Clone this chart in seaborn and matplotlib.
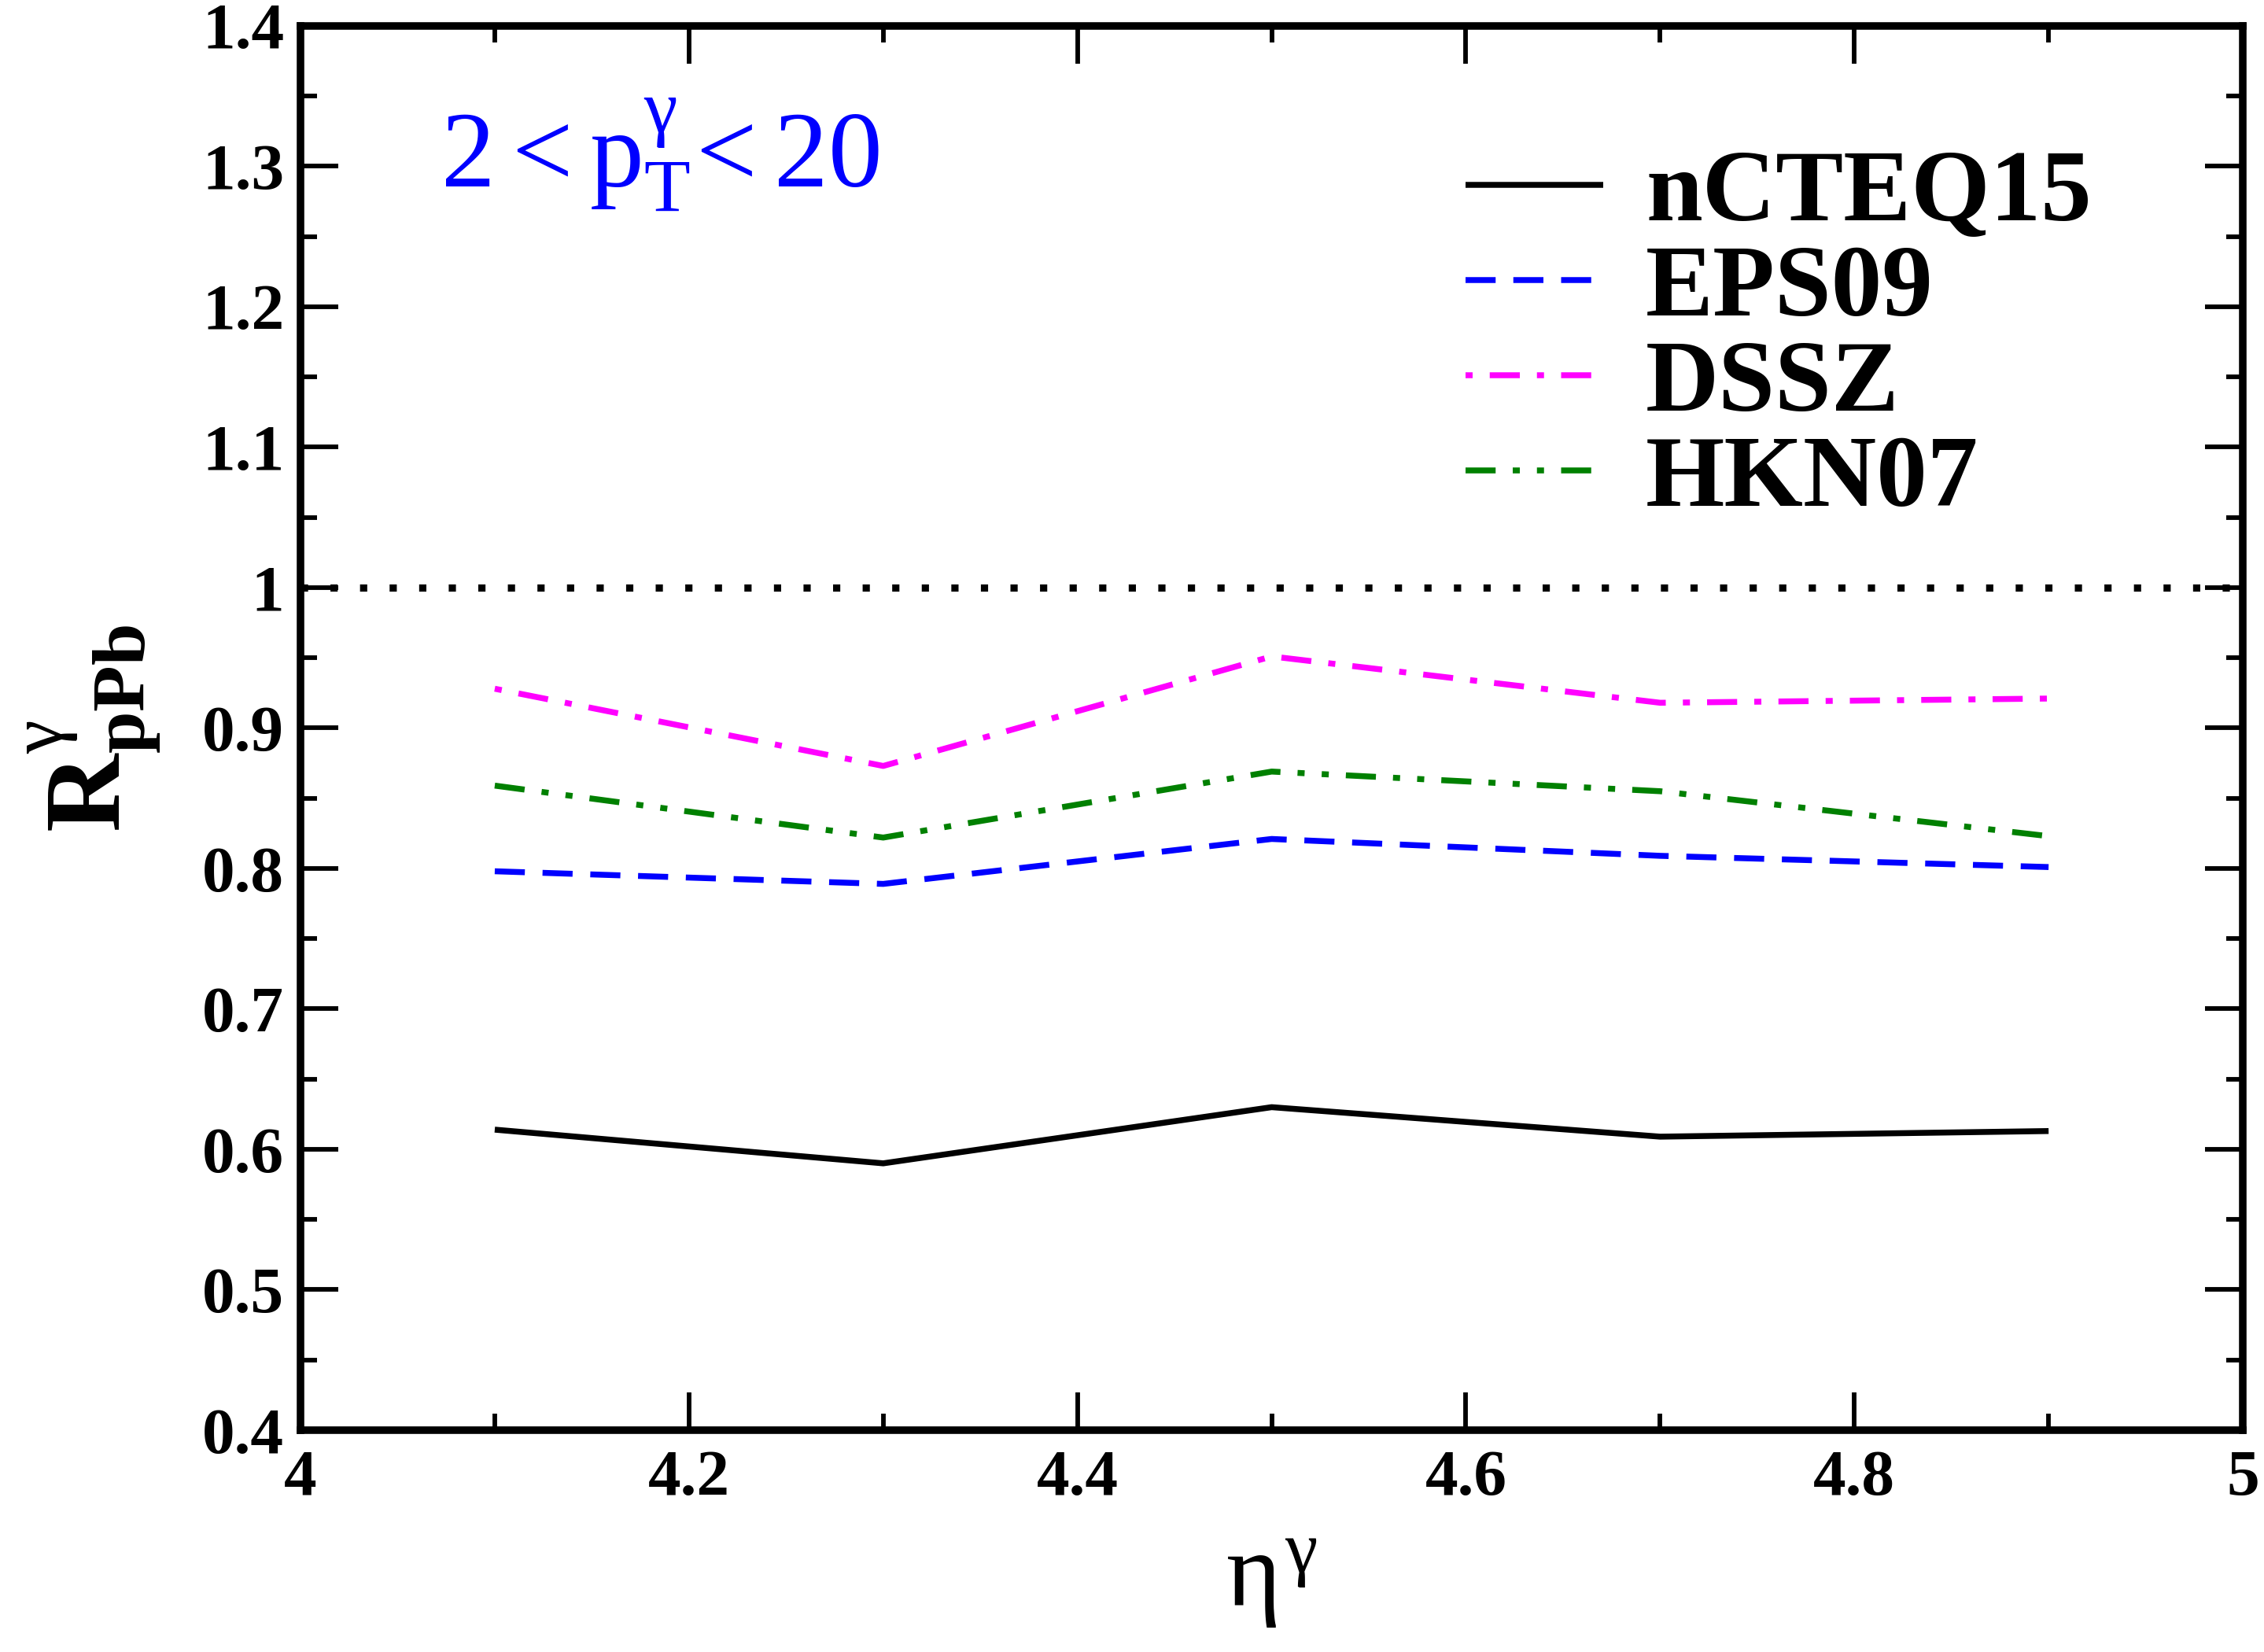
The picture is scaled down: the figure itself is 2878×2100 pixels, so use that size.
import matplotlib

matplotlib.use("Agg")
import matplotlib.pyplot as plt
import pandas as pd
import seaborn as sns
from matplotlib.ticker import MultipleLocator

# Data
eta = [4.1, 4.3, 4.5, 4.7, 4.9]
ncteq15 = [0.614, 0.590, 0.630, 0.609, 0.613]
eps09 = [0.798, 0.789, 0.821, 0.809, 0.801]
dssz = [0.928, 0.873, 0.951, 0.918, 0.921]
hkn07 = [0.859, 0.822, 0.869, 0.855, 0.823]

labels = ["nCTEQ15", "EPS09", "DSSZ", "HKN07"]
colours = ["black", "#0000ff", "#ff00ff", "#008000"]
styles = [
    "-",
    (0, (5.1, 3.0)),
    (0, (1.2, 2.9, 5.1, 2.9)),
    (0, (5.1, 2.9, 1.2, 2.9, 1.2, 2.9)),
]

sns.set_style("ticks")
plt.rcParams["font.family"] = ["Liberation Serif", "DejaVu Serif"]
plt.rcParams["mathtext.fontset"] = "custom"
plt.rcParams["mathtext.rm"] = "Liberation Serif"
plt.rcParams["mathtext.it"] = "Liberation Serif"
plt.rcParams["mathtext.bf"] = "Liberation Serif:bold"
for key in ["text.color", "axes.labelcolor", "xtick.color", "ytick.color", "axes.edgecolor"]:
    plt.rcParams[key] = "black"

fig = plt.figure(figsize=(2879 / 300, 2100 / 300), dpi=300)
ax = fig.add_axes([0.1327, 0.1343, 0.9903 - 0.1327, 0.9843 - 0.1343])

series = [ncteq15, eps09, dssz, hkn07]
for values, label, colour, ls in zip(series, labels, colours, styles):
    df = pd.DataFrame({"eta": eta, "R": values})
    sns.lineplot(
        data=df, x="eta", y="R", ax=ax, color=colour, linestyle=ls,
        linewidth=1.8, label=label, solid_capstyle="butt",
    )

# Reference line at unity
ax.axhline(1.0, color="black", linewidth=2.2, linestyle=(0, (1.0, 3.1)))

ax.set_xlim(4, 5)
ax.set_ylim(0.4, 1.4)
ax.xaxis.set_major_locator(MultipleLocator(0.2))
ax.xaxis.set_minor_locator(MultipleLocator(0.1))
ax.yaxis.set_major_locator(MultipleLocator(0.1))
ax.yaxis.set_minor_locator(MultipleLocator(0.05))
ax.xaxis.set_major_formatter(plt.FuncFormatter(lambda v, p: f"{v:g}"))
ax.yaxis.set_major_formatter(plt.FuncFormatter(lambda v, p: f"{v:g}"))

for side in ["top", "bottom", "left", "right"]:
    ax.spines[side].set_linewidth(2.3)
    ax.spines[side].set_color("black")
ax.tick_params(which="both", direction="in", top=True, right=True, width=1.4,
               color="black", labelcolor="black")
ax.tick_params(which="major", length=11.5)
ax.tick_params(which="minor", length=5)
ax.tick_params(axis="y", which="major", pad=5, labelsize=20)
ax.tick_params(axis="x", which="major", pad=6, labelsize=20)
for lab in ax.get_xticklabels() + ax.get_yticklabels():
    lab.set_fontweight("bold")

ax.set_xlabel(r"$\eta^{\gamma}$", fontsize=32, labelpad=8)
ax.set_ylabel(r"$\mathbf{R}_{\mathbf{pPb}}^{\gamma}$", fontsize=33, labelpad=12)

ax.text(
    0.072, 0.885, r"$2 < \mathrm{p}_{\mathrm{T}}^{\gamma}\!< 20$",
    transform=ax.transAxes, color="#0000ff", fontsize=33,
)

leg = ax.legend(
    loc="upper left", bbox_to_anchor=(0.6, 0.912), frameon=False,
    prop={"family": "Liberation Serif", "weight": "bold", "size": 31},
    handlelength=1.35, handletextpad=0.42, labelspacing=0.02,
    borderpad=0, borderaxespad=0,
)

fig.savefig("out.png", dpi=300)
